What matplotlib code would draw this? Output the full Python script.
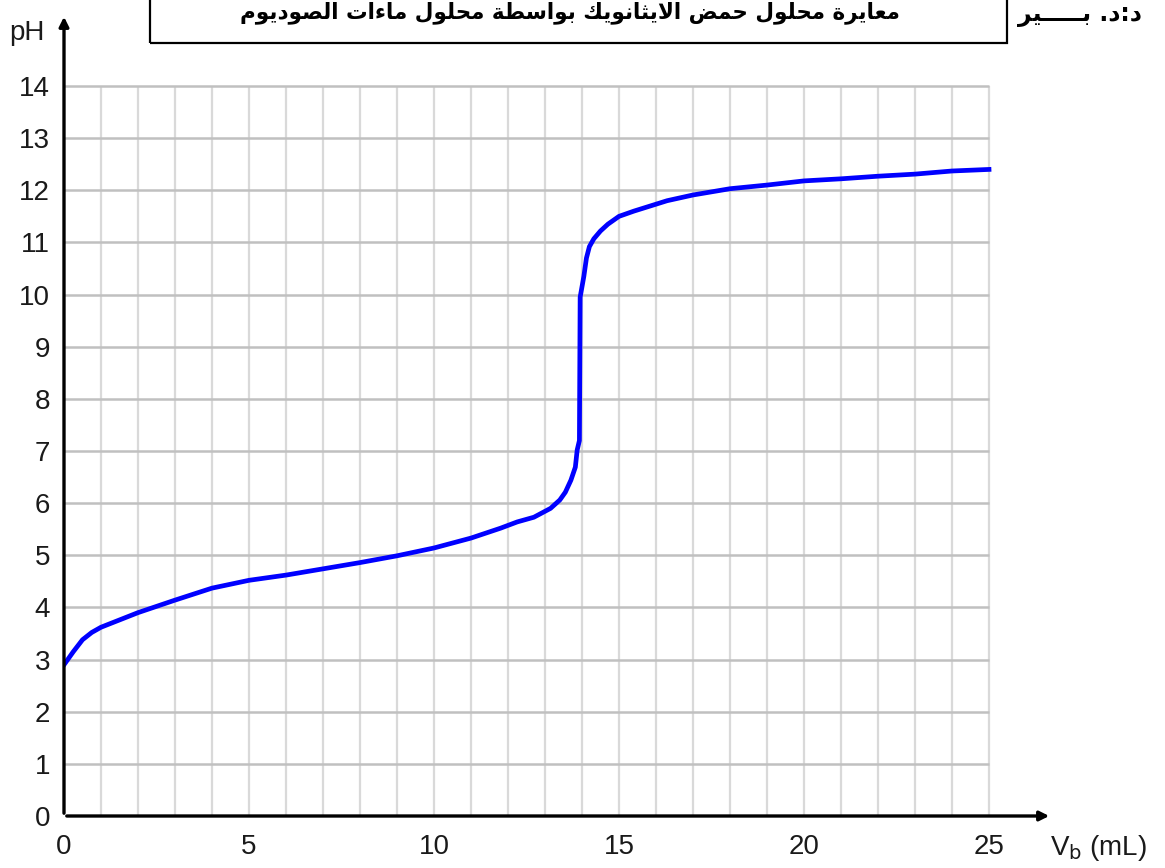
import matplotlib
matplotlib.use("Agg")
import matplotlib.pyplot as plt
from matplotlib.patches import Rectangle

# titration data: volume of base (mL) vs pH
vb = [0, 0.25, 0.5, 0.75, 1, 1.5, 2, 3, 4, 5, 6, 7, 8, 9, 10, 11, 11.8, 12.25,
      12.7, 13.15, 13.4, 13.55, 13.7, 13.82, 13.87, 13.93, 13.95, 14.05, 14.12,
      14.2, 14.32, 14.5, 14.7, 15.0, 15.4, 15.85, 16.3, 17, 18, 19, 20, 21, 22,
      23, 24, 25]
ph = [2.9, 3.15, 3.38, 3.52, 3.62, 3.76, 3.9, 4.14, 4.37, 4.52, 4.62, 4.74,
      4.86, 4.99, 5.14, 5.33, 5.52, 5.64, 5.73, 5.9, 6.06, 6.21, 6.44, 6.69,
      7.02, 7.2, 9.95, 10.35, 10.7, 10.92, 11.07, 11.22, 11.35, 11.5, 11.6,
      11.7, 11.8, 11.91, 12.03, 12.1, 12.18, 12.22, 12.27, 12.31, 12.37, 12.4]

xticks = [0, 5, 10, 15, 20, 25]
yticks = list(range(0, 15))
title = "معايرة محلول حمض الايثانويك بواسطة محلول ماءات الصوديوم"
side_text = "د:د. بـــــير"

# minimal arabic shaping (matplotlib has no shaping / bidi)
FORMS = {
    'ا': ('\uFE8D', '\uFE8E', None, None),
    'ب': ('\uFE8F', '\uFE90', '\uFE91', '\uFE92'),
    'ة': ('\uFE93', '\uFE94', None, None),
    'ت': ('\uFE95', '\uFE96', '\uFE97', '\uFE98'),
    'ث': ('\uFE99', '\uFE9A', '\uFE9B', '\uFE9C'),
    'ح': ('\uFEA1', '\uFEA2', '\uFEA3', '\uFEA4'),
    'د': ('\uFEA9', '\uFEAA', None, None),
    'ر': ('\uFEAD', '\uFEAE', None, None),
    'س': ('\uFEB1', '\uFEB2', '\uFEB3', '\uFEB4'),
    'ص': ('\uFEB9', '\uFEBA', '\uFEBB', '\uFEBC'),
    'ض': ('\uFEBD', '\uFEBE', '\uFEBF', '\uFEC0'),
    'ط': ('\uFEC1', '\uFEC2', '\uFEC3', '\uFEC4'),
    'ع': ('\uFEC9', '\uFECA', '\uFECB', '\uFECC'),
    'ك': ('\uFED9', '\uFEDA', '\uFEDB', '\uFEDC'),
    'ل': ('\uFEDD', '\uFEDE', '\uFEDF', '\uFEE0'),
    'م': ('\uFEE1', '\uFEE2', '\uFEE3', '\uFEE4'),
    'ن': ('\uFEE5', '\uFEE6', '\uFEE7', '\uFEE8'),
    'و': ('\uFEED', '\uFEEE', None, None),
    'ي': ('\uFEF1', '\uFEF2', '\uFEF3', '\uFEF4'),
    'ء': ('\uFE80', None, None, None),
    'ـ': ('ـ', 'ـ', 'ـ', 'ـ'),
    'لا': ('\uFEFB', '\uFEFC', None, None),
}


def joins_next(c):
    f = FORMS.get(c)
    return f is not None and f[2] is not None


def joins_prev(c):
    f = FORMS.get(c)
    return f is not None and f[1] is not None


def shape(s):
    chars = []
    i = 0
    while i < len(s):
        if s[i] == 'ل' and i + 1 < len(s) and s[i + 1] == 'ا':
            chars.append('لا')
            i += 2
        else:
            chars.append(s[i])
            i += 1
    out = []
    for k, c in enumerate(chars):
        if c not in FORMS:
            out.append(c)
            continue
        p = k > 0 and joins_next(chars[k - 1]) and joins_prev(c)
        n = k + 1 < len(chars) and joins_next(c) and joins_prev(chars[k + 1])
        iso, fin, ini, med = FORMS[c]
        if p and n:
            out.append(med)
        elif p:
            out.append(fin)
        elif n:
            out.append(ini)
        else:
            out.append(iso)
    return ''.join(out[::-1])


W, H = 1165, 868
fig = plt.figure(figsize=(W / 100, H / 100), dpi=100)
x0, x1 = 64, 1052
y0, y1 = 816, 14
ax = fig.add_axes([x0 / W, (H - y0) / H, (x1 - x0) / W, (y0 - y1) / H])
ax.set_xlim(0, 25 * (x1 - x0) / 925)
ax.set_ylim(0, 14 * (y0 - y1) / 730)
for s in ax.spines.values():
    s.set_visible(False)

# grid
ax.vlines(range(1, 26), 0, 14, colors="#d9d9d9", lw=1.6, zorder=1)
ax.hlines(range(1, 15), 0, 25, colors="#c0c0c0", lw=1.8, zorder=1)

ax.plot(vb, ph, color="#0000ff", lw=3.4, zorder=3)

# axes with arrows
ax.annotate("", xy=(ax.get_xlim()[1], 0), xytext=(0, 0),
            arrowprops=dict(arrowstyle="-|>", lw=2.4, color="black", mutation_scale=14),
            annotation_clip=False, zorder=4)
ax.annotate("", xy=(0, ax.get_ylim()[1]), xytext=(0, 0),
            arrowprops=dict(arrowstyle="-|>", lw=2.4, color="black", mutation_scale=14),
            annotation_clip=False, zorder=4)

ax.set_xticks(xticks)
ax.set_yticks(yticks)
ax.tick_params(length=0, labelsize=20, labelcolor="#1a1a1a")
ax.tick_params(axis="x", pad=13)
ax.tick_params(axis="y", pad=10)
for lab in ax.get_xticklabels() + ax.get_yticklabels():
    lab.set_family("Liberation Sans")

fig.text(27 / W, 1 - 33 / H, "pH", fontsize=20, family="Liberation Sans",
         ha="center", va="center", color="#1a1a1a")
fig.text(1050 / W, 1 - 848 / H, r"V$_\mathrm{b}$ (mL)", fontsize=20,
         family="Liberation Sans", ha="left", va="center", color="#1a1a1a")

# title box
fig.patches.append(Rectangle((150 / W, 1 - 43 / H), (1007 - 150) / W, 60 / H,
                             transform=fig.transFigure, fill=False,
                             edgecolor="black", lw=1.6))
fig.text(570 / W, 1 - 13 / H, shape(title), fontsize=15.5, fontweight="bold",
         family="DejaVu Sans", ha="center", va="center")
fig.text(1018 / W, 1 - 15 / H, shape(side_text), fontsize=17, fontweight="bold",
         family="DejaVu Sans", ha="left", va="center")

fig.savefig("out.png", dpi=100)
